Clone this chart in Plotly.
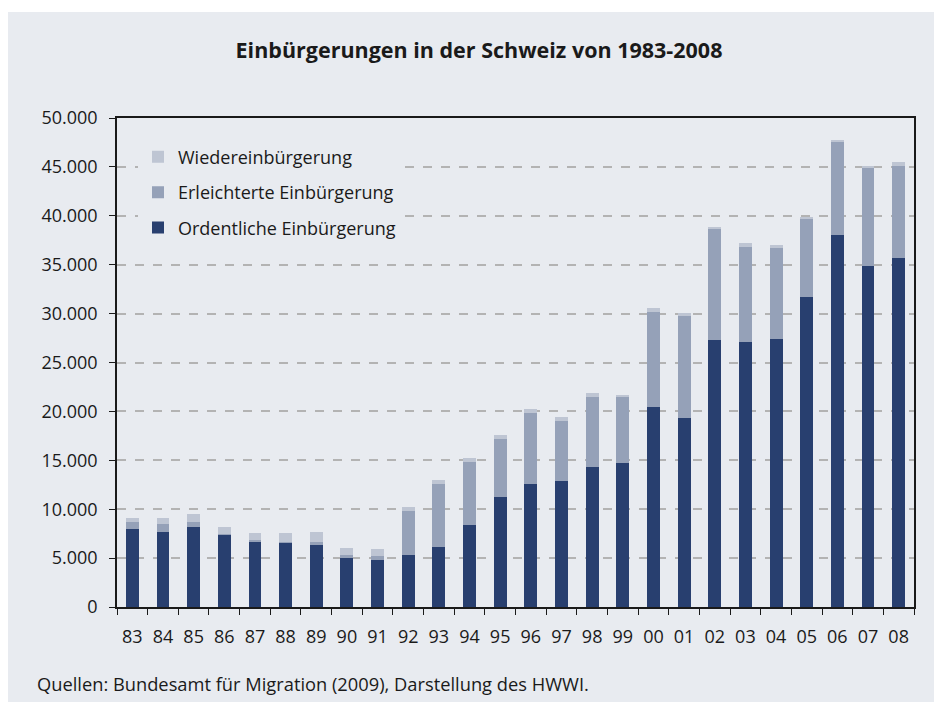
import plotly.graph_objects as go

years = ["83", "84", "85", "86", "87", "88", "89", "90", "91", "92", "93", "94", "95",
         "96", "97", "98", "99", "00", "01", "02", "03", "04", "05", "06", "07", "08"]
ordentliche = [8020, 7710, 8220, 7410, 6690, 6590, 6380, 5050, 4850, 5360, 6170, 8430, 11200,
               12530, 12900, 14270, 14680, 20400, 19300, 27300, 27100, 27400, 31700, 38050, 34900, 35700]
erleichterte = [720, 820, 520, 50, 210, 100, 310, 310, 410, 4490, 6360, 6370, 5950,
                7270, 6160, 7180, 6770, 9750, 10550, 11350, 9700, 9400, 8000, 9550, 10000, 9400]
wieder = [410, 520, 720, 680, 710, 920, 1020, 710, 710, 410, 410, 400, 410,
          400, 410, 410, 210, 410, 200, 210, 400, 200, 200, 50, 200, 400]
y_ticks = [0, 5000, 10000, 15000, 20000, 25000, 30000, 35000, 40000, 45000, 50000]

BG = "#e8ebf0"
FONT = "Open Sans"
TXT = "#1a1a1a"

L, R, T, B = 109, 36, 110, 103
PW, PH = 942 - L - R, 702 - T - B

fig = go.Figure()
fig.add_trace(go.Bar(x=years, y=ordentliche, name="Ordentliche Einbürgerung",
                     marker=dict(color="#283f6f", line=dict(width=0)),
                     legendgroup="g3", legendrank=3))
fig.add_trace(go.Bar(x=years, y=erleichterte, name="Erleichterte Einbürgerung",
                     marker=dict(color="#95a1b8", line=dict(width=0)),
                     legendgroup="g2", legendrank=2))
fig.add_trace(go.Bar(x=years, y=wieder, name="Wiedereinbürgerung",
                     marker=dict(color="#bec5d3", line=dict(width=0)),
                     legendgroup="g1", legendrank=1))

fig.update_layout(
    width=942, height=702,
    barmode="stack", bargap=0.58,
    paper_bgcolor="white", plot_bgcolor=BG,
    separators=",.",
    margin=dict(l=L, r=R, t=T, b=B),
    font=dict(family=FONT, size=18, color=TXT),
    title=dict(text="<b>Einbürgerungen in der Schweiz von 1983-2008</b>",
               x=0.5, xanchor="center", y=1 - 42 / 702, yanchor="middle",
               font=dict(family=FONT, size=21.5, color=TXT)),
    legend=dict(x=(130 - L) / PW, y=0.958, xanchor="left", yanchor="top",
                bgcolor=BG, traceorder="grouped", tracegroupgap=9,
                font=dict(family=FONT, size=18, color=TXT),
                itemclick=False),
    shapes=[dict(type="rect", xref="paper", yref="paper",
                 x0=-L / PW, x1=1 + R / PW, y0=-B / PH, y1=1 + (T - 4) / PH,
                 fillcolor=BG, line=dict(width=0), layer="below")],
    annotations=[dict(text="Quellen: Bundesamt für Migration (2009), Darstellung des HWWI.",
                      xref="paper", yref="paper", x=(27 - L) / PW, y=(T + PH - 675) / PH,
                      xanchor="left", yanchor="middle", showarrow=False,
                      font=dict(family=FONT, size=18.3, color=TXT))],
)

fig.update_xaxes(
    type="category", showline=True, linecolor=TXT, linewidth=1.5,
    mirror=True, ticks="outside", tickson="boundaries", ticklen=6,
    tickcolor=TXT, tickwidth=1.2, showgrid=False,
    ticklabelstandoff=13, tickfont=dict(size=18),
)
fig.update_yaxes(
    range=[0, 50000], tickvals=y_ticks, tickformat=",d",
    showline=True, linecolor=TXT, linewidth=1.5, mirror=True,
    ticks="outside", ticklen=6, tickcolor=TXT, tickwidth=1.2,
    showgrid=True, gridcolor="#b3b3b3", gridwidth=1.5, griddash="dash",
    zeroline=False, ticklabelstandoff=8, tickfont=dict(size=18),
)

fig.write_html("out.html")
